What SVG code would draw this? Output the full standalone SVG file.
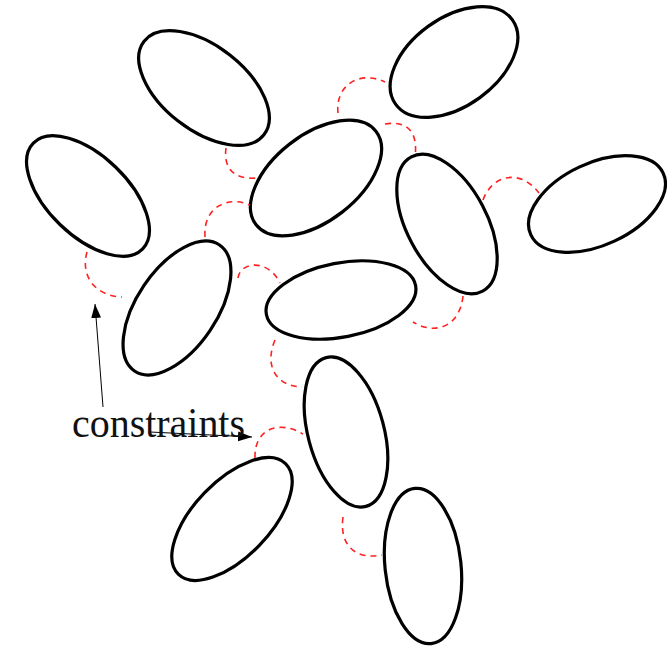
<svg xmlns="http://www.w3.org/2000/svg" width="667" height="648" viewBox="0 0 667 648">
<defs>
<style>
.el{fill:none;stroke:#000;stroke-width:3.2}
.c{fill:none;stroke:#ff2020;stroke-width:1.6;stroke-dasharray:6,5}
.ar{fill:none;stroke:#000;stroke-width:1}
.lbl{font-family:"Liberation Serif","Times New Roman",serif;font-size:42px;fill:#111}
</style>
<marker id="ah" viewBox="0 0 10 10" refX="10" refY="5" markerWidth="14" markerHeight="14" markerUnits="userSpaceOnUse" orient="auto">
<path d="M0,1.5 L10,5 L0,8.5 Z" fill="#000"/>
</marker>
</defs>
<rect width="667" height="648" fill="#fff"/>
<g id="nodes">
<g id="e1"><ellipse class="el" cx="204" cy="88" rx="76" ry="42" transform="rotate(38 204 88)"/></g>
<g id="e2"><ellipse class="el" cx="454" cy="62" rx="72" ry="44" transform="rotate(-36 454 62)"/></g>
<g id="e3"><ellipse class="el" cx="88" cy="196" rx="76" ry="40" transform="rotate(44 88 196)"/></g>
<g id="e4"><ellipse class="el" cx="316" cy="178" rx="76" ry="43" transform="rotate(-38 316 178)"/></g>
<g id="e5"><ellipse class="el" cx="447" cy="224" rx="76" ry="40" transform="rotate(62 447 224)"/></g>
<g id="e6"><ellipse class="el" cx="597" cy="204" rx="73" ry="41" transform="rotate(-25 597 204)"/></g>
<g id="e7"><ellipse class="el" cx="177" cy="308" rx="76" ry="40" transform="rotate(-56 177 308)"/></g>
<g id="e8"><ellipse class="el" cx="341" cy="300" rx="76" ry="37" transform="rotate(-11 341 300)"/></g>
<g id="e9"><ellipse class="el" cx="346" cy="432" rx="77" ry="38" transform="rotate(75 346 432)"/></g>
<g id="e10"><ellipse class="el" cx="232" cy="519" rx="77" ry="38" transform="rotate(-46 232 519)"/></g>
<g id="e11"><ellipse class="el" cx="423" cy="566" rx="78" ry="38" transform="rotate(84 423 566)"/></g>
</g>
<g id="connectors">
<path class="c" d="M87,252 C80,277 96,296 122,297"/>
<path class="c" d="M238,278 C240,262 268,258 280,283"/>
<path class="c" d="M226,148 C223,170 236,180 257,178"/>
<path class="c" d="M205,237 C203,205 230,196 250,205"/>
<path class="c" d="M338,113 C335,85 360,70 385,82"/>
<path class="c" d="M385,124 C410,120 418,135 415,157"/>
<path class="c" d="M483,200 C492,175 520,168 539,193"/>
<path class="c" d="M463,296 C460,326 436,336 413,322"/>
<path class="c" d="M275,340 C264,366 276,386 302,387"/>
<path class="c" d="M255,458 C254,428 280,420 303,434"/>
<path class="c" d="M343,517 C339,546 356,560 382,555"/>
<path class="ar" d="M103,407 L95,304" marker-end="url(#ah)"/>
<path class="ar" d="M150,432 L252,437" marker-end="url(#ah)" stroke="#444"/>
</g>
<text class="lbl" x="72" y="437" textLength="173" lengthAdjust="spacingAndGlyphs">constraints</text>
</svg>
